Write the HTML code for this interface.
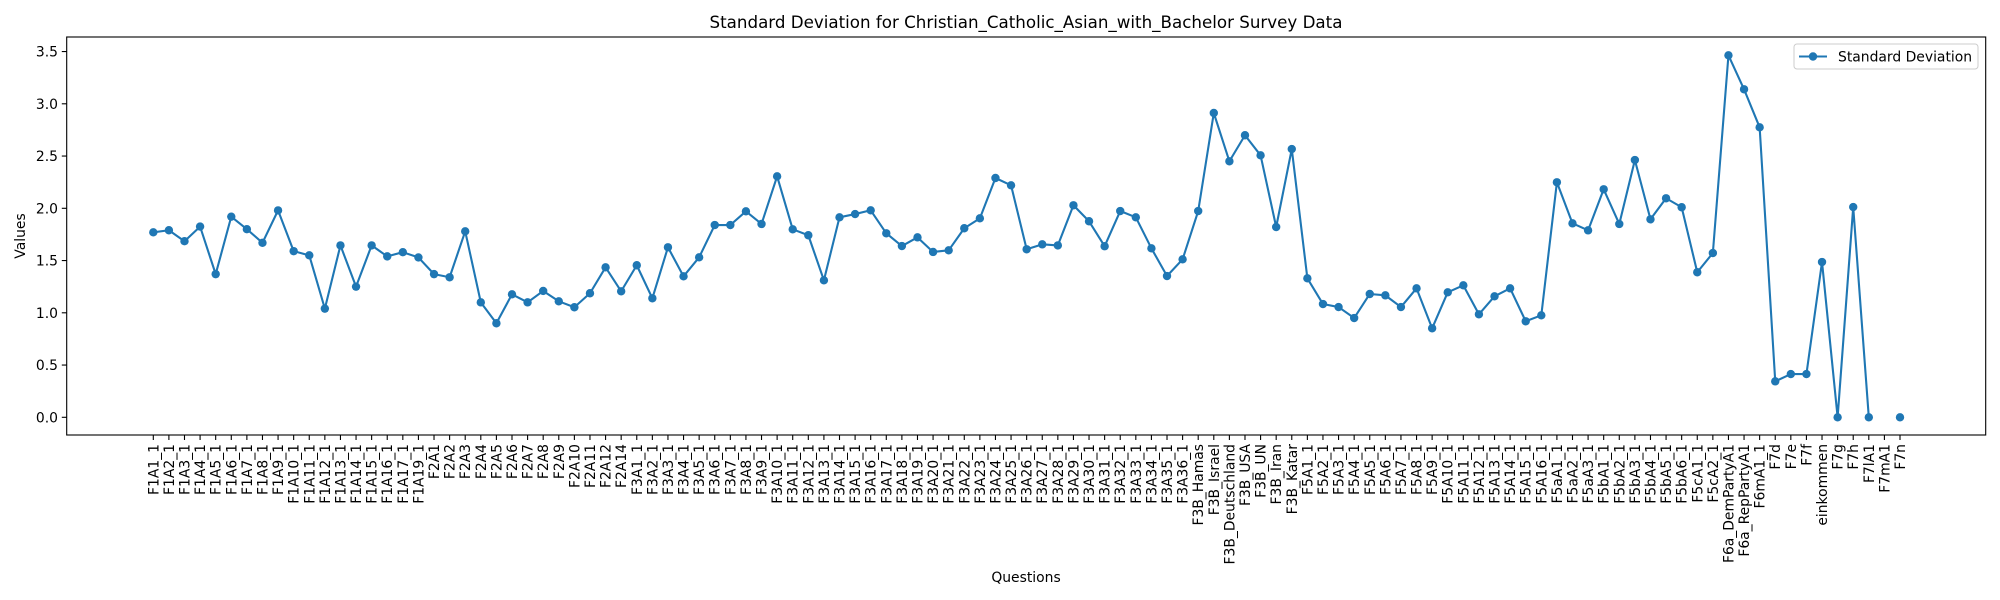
<!DOCTYPE html>
<html><head><meta charset="utf-8"><style>
html,body{margin:0;padding:0;background:#fff;}
svg{display:block;font-family:"DejaVu Sans","Liberation Sans",sans-serif;}
</style></head><body>
<svg id="chart" width="2000" height="600" viewBox="0 0 2000 600" xmlns="http://www.w3.org/2000/svg">
<rect width="2000" height="600" fill="#fff"/>
<text x="1026" y="28" font-size="16.7" text-anchor="middle" fill="#000">Standard Deviation for Christian_Catholic_Asian_with_Bachelor Survey Data</text>
<text x="1026" y="582" font-size="13.9" text-anchor="middle" fill="#000">Questions</text>
<text transform="translate(25,236) rotate(-90)" font-size="13.9" text-anchor="middle" fill="#000">Values</text>
<g id="yaxis"></g>
<g id="xaxis"></g>
<g id="series"></g>
<rect x="66.7" y="37" width="1919" height="398" fill="none" stroke="#000" stroke-width="1.1"/>
<g>
<rect x="1794" y="44" width="184" height="25" rx="3" fill="#fff" stroke="#ccc" stroke-width="1"/>
<line x1="1799" y1="56.5" x2="1827" y2="56.5" stroke="#1f77b4" stroke-width="2.1"/>
<circle cx="1813" cy="56.5" r="4.2" fill="#1f77b4"/>
<text x="1838" y="61.5" font-size="13.9" fill="#000">Standard Deviation</text>
</g>
</svg>
<script>
const categories = ["F1A1_1","F1A2_1","F1A3_1","F1A4_1","F1A5_1","F1A6_1","F1A7_1","F1A8_1","F1A9_1","F1A10_1","F1A11_1","F1A12_1","F1A13_1","F1A14_1","F1A15_1","F1A16_1","F1A17_1","F1A19_1",
"F2A1","F2A2","F2A3","F2A4","F2A5","F2A6","F2A7","F2A8","F2A9","F2A10","F2A11","F2A12","F2A14",
"F3A1_1","F3A2_1","F3A3_1","F3A4_1","F3A5_1","F3A6_1","F3A7_1","F3A8_1","F3A9_1","F3A10_1","F3A11_1","F3A12_1","F3A13_1","F3A14_1","F3A15_1","F3A16_1","F3A17_1","F3A18_1","F3A19_1","F3A20_1","F3A21_1","F3A22_1","F3A23_1","F3A24_1","F3A25_1","F3A26_1","F3A27_1","F3A28_1","F3A29_1","F3A30_1","F3A31_1","F3A32_1","F3A33_1","F3A34_1","F3A35_1","F3A36_1",
"F3B_Hamas","F3B_Israel","F3B_Deutschland","F3B_USA","F3B_UN","F3B_Iran","F3B_Katar",
"F5A1_1","F5A2_1","F5A3_1","F5A4_1","F5A5_1","F5A6_1","F5A7_1","F5A8_1","F5A9_1","F5A10_1","F5A11_1","F5A12_1","F5A13_1","F5A14_1","F5A15_1","F5A16_1",
"F5aA1_1","F5aA2_1","F5aA3_1","F5bA1_1","F5bA2_1","F5bA3_1","F5bA4_1","F5bA5_1","F5bA6_1","F5cA1_1","F5cA2_1",
"F6a_DemPartyA1","F6a_RepPartyA1","F6mA1_1","F7d","F7e","F7f","einkommen","F7g","F7h","F7lA1","F7mA1","F7n"];
const stdValues = [1.77,1.79,1.685,1.825,1.37,1.92,1.80,1.67,1.98,1.59,1.55,1.04,1.645,1.25,1.645,1.54,1.58,1.53,
1.37,1.34,1.78,1.10,0.90,1.177,1.10,1.209,1.11,1.053,1.187,1.435,1.206,
1.455,1.139,1.627,1.349,1.531,1.84,1.84,1.971,1.85,2.306,1.799,1.742,1.311,1.914,1.945,1.981,1.761,1.639,1.722,1.582,1.598,1.809,1.904,2.29,2.22,1.608,1.655,1.645,2.029,1.876,1.637,1.974,1.914,1.617,1.352,1.512,
1.974,2.912,2.45,2.699,2.507,1.821,2.567,
1.33,1.084,1.055,0.95,1.18,1.167,1.055,1.234,0.852,1.196,1.263,0.986,1.158,1.234,0.919,0.976,
2.249,1.856,1.789,2.182,1.85,2.462,1.895,2.096,2.01,1.388,1.572,
3.464,3.139,2.775,0.344,0.414,0.414,1.486,0,2.012,0,null,0];
const yTicks = [0,0.5,1,1.5,2,2.5,3,3.5];
const yTickLabels = ["0.0","0.5","1.0","1.5","2.0","2.5","3.0","3.5"];

const NS = "http://www.w3.org/2000/svg";
const X0 = 153.3, X1 = 1900;
function xScale(i){ return X0 + (X1 - X0) * i / (categories.length - 1); }
function yScale(v){ return 417.3 - v * 104.5; }
function mk(tag, attrs, parent){ const e = document.createElementNS(NS, tag); for (const k in attrs) e.setAttribute(k, attrs[k]); parent.appendChild(e); return e; }

const yg = document.getElementById('yaxis');
yTicks.forEach((t, k) => {
  const y = yScale(t);
  const ln = mk('line', {x1: 61.8, x2: 66.7, y1: y, y2: y, stroke: '#000', 'stroke-width': 1.1}, yg);
  
  
  const tx = mk('text', {x: 58, y: y + 5, 'font-size': 13.9, 'text-anchor': 'end', fill: '#000'}, yg);
  tx.textContent = yTickLabels[k];
  
  
});

const xg = document.getElementById('xaxis');
categories.forEach((c, i) => {
  const x = xScale(i);
  const ln = mk('line', {x1: x, x2: x, y1: 435, y2: 440, stroke: '#000', 'stroke-width': 1.1}, xg);
  
  
  const tx = mk('text', {transform: 'translate(' + (x + 5) + ',444) rotate(-90)', 'font-size': 13.9, 'text-anchor': 'end', fill: '#000'}, xg);
  tx.textContent = c;
  
  
});

const sg = document.getElementById('series');
let segs = [], cur = [];
stdValues.forEach((v, i) => {
  if (v === null) { if (cur.length) segs.push(cur); cur = []; }
  else cur.push(xScale(i).toFixed(2) + ',' + yScale(v).toFixed(2));
});
if (cur.length) segs.push(cur);
segs.forEach(s => {
  if (s.length > 1) {
    const pl = mk('polyline', {points: s.join(' '), fill: 'none', stroke: '#1f77b4', 'stroke-width': 2.1, 'stroke-linejoin': 'round'}, sg);
    
    
  }
});
stdValues.forEach((v, i) => {
  if (v === null) return;
  const c = mk('circle', {cx: xScale(i), cy: yScale(v), r: 4.2, fill: '#1f77b4'}, sg);
  
  
});
</script>
</body></html>
